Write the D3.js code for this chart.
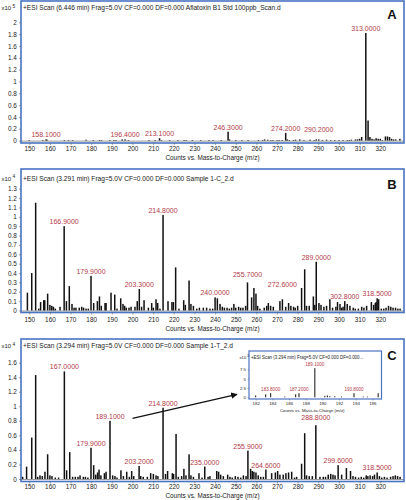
<!DOCTYPE html>
<html><head><meta charset="utf-8">
<script src="https://cdn.jsdelivr.net/npm/d3@7"></script>
<style>
body{margin:0;background:#fff}
svg{display:block}
text{font-family:"Liberation Sans",Arial,sans-serif}
</style>
</head><body>
<svg id="chart" width="406" height="500"></svg>
<script>
// ---------------- DATA ----------------
const mzTicks = [150,160,170,180,190,200,210,220,230,240,250,260,270,280,290,300,310,320];
const yTicksA = [0,0.2,0.4,0.6,0.8,1,1.2,1.4,1.6,1.8,2];
const yTicksB = [0,0.1,0.2,0.3,0.4,0.5,0.6,0.7,0.8,0.9,1,1.1,1.2,1.3];
const yTicksC = [0,0.2,0.4,0.6,0.8,1,1.2,1.4,1.6];
const insetXTicks = [182,184,186,188,190,192,194,196];
const insetYTicks = [0,2.5,5,7.5];

const titleA = "+ESI Scan (6.446 min) Frag=5.0V CF=0.000 DF=0.000 Aflatoxin B1 Std 100ppb_Scan.d";
const titleB = "+ESI Scan (3.291 min) Frag=5.0V CF=0.000 DF=0.000 Sample 1-C_2.d";
const titleC = "+ESI Scan (3.294 min) Frag=5.0V CF=0.000 DF=0.000 Sample 1-T_2.d";
const titleInset = "+ESI Scan (3.294 min) Frag=5.0V CF=0.000 DF=0.000...";
const xAxisTitle = "Counts vs. Mass-to-Charge (m/z)";

// Panel A (x10^5)
const mzA = [150,156.5,158.1,158.6,167,169,171,177.5,181,184,185,189,191,192,195,196.4,198,208,211,213.1,214,218,222,225,226,229,233,237,239,243,246.3,247,250,253,256,261,263,264,265.5,267,268,270,271,272.5,274.2,275,276,278,279,281,283,286,288,289,290.2,292,294,296,298,300,302,304,305,306,308,309,310,311,313.0,314.1,315,316,317,318,319,320,321,322.5,323.5,324.5,325.5,326.5,327.5,329.5];
const intA = [0.005,0.01,0.02,0.015,0.01,0.01,0.01,0.015,0.005,0.01,0.01,0.005,0.01,0.01,0.02,0.02,0.005,0.01,0.01,0.04,0.01,0.01,0.005,0.01,0.01,0.005,0.005,0.005,0.01,0.01,0.15,0.02,0.01,0.01,0.005,0.005,0.01,0.02,0.015,0.01,0.01,0.01,0.005,0.01,0.13,0.02,0.01,0.01,0.015,0.02,0.01,0.015,0.01,0.02,0.02,0.01,0.015,0.01,0.005,0.01,0.01,0.01,0.005,0.015,0.02,0.02,0.03,0.06,1.82,0.34,0.06,0.03,0.02,0.04,0.03,0.03,0.01,0.07,0.07,0.06,0.03,0.02,0.02,0.03];
const labelsA = [158.1,196.4,213.1,246.3,274.2,290.2,313.0];

// Panel B (x10^4)
const mzB = [149.1,151.2,153.1,154.6,155.5,157.0,157.5,158.9,160.0,160.9,161.7,162.6,164.9,166.9,168.0,169.4,170.7,171.7,172.6,174.2,175.4,176.3,177.5,178.6,179.9,181.2,183.0,184.0,184.9,186.7,187.2,189.6,191.4,192.5,194.3,195.4,196.2,197.0,198.3,199.3,201.2,202.3,203.3,204.4,205.6,207.7,209.3,210.1,211.4,212.2,213.3,214.8,217.2,219.1,219.8,220.9,222.5,224.8,225.6,227.4,228.3,229.5,231.1,232.4,234.3,235.9,237.5,238.8,240.0,241.1,242.4,243.5,244.5,245.8,246.9,248.0,249.1,250.0,251.4,252.4,253.5,254.8,255.7,257.7,258.8,259.8,260.6,261.7,263.8,265.0,265.8,266.9,268.2,271.4,272.6,274.2,275.6,276.7,278.0,278.8,280.0,281.9,283.4,284.3,285.6,287.6,288.3,289.0,290.3,291.3,292.7,294.0,295.6,296.9,298.5,299.3,300.5,301.3,302.0,302.8,304.0,305.3,306.9,307.9,309.4,311.0,312.1,313.4,315.7,316.8,317.6,318.0,318.5,319.2,320.5,321.7,322.8,324.0,325.1,326.2,327.4,328.5,329.6];
const intB = [0.19,0.40,1.15,0.02,0.09,0.11,0.11,0.18,0.06,0.05,0.04,0.02,0.04,0.90,0.10,0.26,0.07,0.03,0.03,0.03,0.04,0.03,0.02,0.02,0.37,0.08,0.10,0.15,0.05,0.08,0.08,0.19,0.17,0.02,0.13,0.07,0.05,0.03,0.03,0.04,0.04,0.10,0.23,0.04,0.11,0.03,0.08,0.03,0.12,0.08,0.02,1.02,0.10,0.09,0.09,0.46,0.02,0.11,0.06,0.32,0.07,0.05,0.02,0.03,0.03,0.03,0.02,0.02,0.14,0.13,0.07,0.04,0.03,0.03,0.02,0.03,0.07,0.03,0.04,0.03,0.03,0.05,0.30,0.14,0.24,0.18,0.05,0.02,0.03,0.05,0.08,0.05,0.04,0.10,0.12,0.04,0.08,0.05,0.04,0.03,0.05,0.24,0.44,0.05,0.05,0.15,0.06,0.52,0.08,0.06,0.04,0.05,0.12,0.03,0.04,0.09,0.07,0.03,0.04,0.10,0.07,0.05,0.03,0.02,0.02,0.04,0.03,0.05,0.09,0.06,0.08,0.09,0.13,0.12,0.02,0.02,0.03,0.05,0.04,0.03,0.03,0.02,0.02];
const labelsB = [166.9,179.9,203.3,214.8,240.0,255.7,272.6,289.0,302.8,318.5];

// Panel C (x10^4)
const mzC = [146.8,148.7,151.2,153.1,154.1,155.2,156.3,157.6,158.9,160.0,161.0,162.6,164.2,167.0,168.1,169.6,171.0,172.3,173.6,174.6,176.2,177.2,178.4,179.9,181.2,182.2,183.1,183.8,184.7,186.4,187.2,189.1,190.4,191.5,192.5,194.4,195.6,197.2,198.5,199.6,200.6,203.2,204.0,205.2,207.2,208.8,210.1,211.4,212.3,214.8,216.0,217.0,219.3,219.9,221.1,222.2,223.8,224.9,225.9,227.4,228.3,229.5,232.2,233.7,235.0,236.6,237.5,240.8,241.7,242.7,244.0,246.1,247.2,248.3,249.8,251.1,252.4,253.7,255.0,255.9,257.2,258.0,258.8,259.8,260.9,262.1,263.4,264.6,267.4,269.2,270.3,271.4,273.0,274.3,275.6,277.1,278.5,279.5,281.9,283.4,284.3,285.6,287.1,288.8,290.8,292.4,293.5,294.8,296.0,297.1,298.1,299.6,301.3,303.6,305.6,306.8,308.0,309.5,310.8,312.0,313.2,314.0,315.1,316.3,317.2,318.5,319.6,320.7,322.0,323.3,325.0,326.2,327.3,328.4,329.6];
const intC = [0.03,0.17,0.57,1.43,0.03,0.05,0.04,0.10,0.34,0.05,0.04,0.02,0.02,1.48,0.12,0.37,0.03,0.03,0.03,0.05,0.03,0.03,0.02,0.43,0.19,0.06,0.09,0.13,0.05,0.08,0.10,0.80,0.05,0.04,0.02,0.12,0.04,0.10,0.03,0.11,0.04,0.18,0.04,0.03,0.03,0.08,0.07,0.05,0.04,0.98,0.07,0.11,0.08,0.07,0.62,0.03,0.04,0.14,0.05,0.34,0.05,0.03,0.08,0.02,0.17,0.03,0.04,0.11,0.10,0.06,0.04,0.06,0.03,0.02,0.04,0.03,0.02,0.05,0.04,0.39,0.14,0.11,0.10,0.09,0.05,0.03,0.03,0.13,0.08,0.09,0.11,0.06,0.06,0.08,0.09,0.10,0.02,0.03,0.21,0.63,0.05,0.04,0.04,0.74,0.03,0.03,0.03,0.06,0.07,0.06,0.05,0.19,0.06,0.15,0.11,0.04,0.03,0.02,0.03,0.02,0.05,0.04,0.05,0.04,0.06,0.09,0.04,0.02,0.03,0.02,0.03,0.04,0.05,0.04,0.03];
const labelsC = [167.0,179.9,189.1,203.2,214.8,235.0,255.9,264.6,288.8,299.6,318.5];

// Inset of panel C (x10^3)
const mzInset = [182.0,183.2,183.8,185.5,186.8,187.2,189.1,190.3,190.6,190.9,191.5,192.3,193.8,194.9,195.4,196.7];
const intInset = [0.5,0.8,1.1,0.2,0.8,1.1,7.8,0.4,0.5,0.3,0.3,0.2,1.1,0.2,0.2,1.1];
const labelsInset = [183.8,187.2,189.1,193.8];

// ---------------- DRAWING ----------------
const svg = d3.select("#chart");
svg.append("rect").attr("width",406).attr("height",500).attr("fill","#fff");

const FRAME = "#4a73c2";
const LABEL = "#b23b4a";
const INK = "#222";

const panels = [
  {id:"A", mz:mzA, val:intA, labels:labelsA, yTicks:yTicksA, exp:"5", title:titleA,
   fx0:21, fy0:1, fx1:404, fy1:143, yTop:2, yTopPx:22.3, y0Px:140.6,
   headY:10, letterY:18.5, tickPad:1.5, axisTitleY:160, nudge:{"290.2":-5}},
  {id:"B", mz:mzB, val:intB, labels:labelsB, yTicks:yTicksB, exp:"4", title:titleB,
   fx0:21, fy0:169, fx1:404, fy1:312.5, yTop:1.3, yTopPx:188.7, y0Px:310.5,
   headY:180.5, letterY:188.5, tickPad:2.5, axisTitleY:330.5, nudge:{"272.6":-10,"255.7":-3}},
  {id:"C", mz:mzC, val:intC, labels:labelsC, yTicks:yTicksC, exp:"4", title:titleC,
   fx0:21, fy0:339, fx1:404, fy1:481.5, yTop:1.6, yTopPx:362.7, y0Px:479,
   headY:348, letterY:359.5, tickPad:1.3, axisTitleY:497.5, nudge:{"288.8":-3}}
];

const fmt = d => d.toFixed(4);

panels.forEach((p, i) => {
  const g = svg.append("g");
  const x = d3.scaleLinear().domain([146, 331.5]).range([p.fx0, p.fx1]);
  const y = d3.scaleLinear().domain([0, p.yTop]).range([p.y0Px, p.yTopPx]);

  const clipId = "clip" + p.id;
  svg.append("clipPath").attr("id", clipId).append("rect")
    .attr("x", p.fx0).attr("y", p.fy0).attr("width", p.fx1 - p.fx0).attr("height", p.fy1 - p.fy0);

  // bars
  const data = p.mz.map((m, k) => ({mz: m, v: p.val[k]}));
  g.append("g").attr("clip-path", `url(#${clipId})`)
    .selectAll("rect").data(data).join("rect")
    .attr("x", d => x(d.mz) - 0.75)
    .attr("width", 1.5)
    .attr("y", d => y(d.v))
    .attr("height", d => Math.max(0.6, y(0) - y(d.v)))
    .attr("fill", "#111");

  // baseline
  g.append("line").attr("x1", p.fx0).attr("x2", p.fx1)
    .attr("y1", y(0) + 0.5).attr("y2", y(0) + 0.5)
    .attr("stroke", "#555").attr("stroke-width", 0.6);

  // frame
  g.append("rect").attr("x", p.fx0).attr("y", p.fy0)
    .attr("width", p.fx1 - p.fx0).attr("height", p.fy1 - p.fy0)
    .attr("fill", "none").attr("stroke", FRAME).attr("stroke-width", 1.6);

  // x axis
  const xa = g.append("g").attr("transform", `translate(0,${p.fy1})`)
    .call(d3.axisBottom(x).tickValues(mzTicks).tickSize(2).tickPadding(p.tickPad).tickFormat(d3.format("d")));
  xa.select(".domain").remove();
  xa.attr("font-size", 6.4).attr("font-family", "Liberation Sans, Arial, sans-serif");
  xa.selectAll("line").attr("stroke", "#666").attr("stroke-width", 0.6);
  xa.selectAll("text").attr("fill", INK);

  // y axis
  const ya = g.append("g").attr("transform", `translate(${p.fx0},0)`)
    .call(d3.axisLeft(y).tickValues(p.yTicks).tickSize(2).tickPadding(2.2).tickFormat(d => String(d)));
  ya.select(".domain").remove();
  ya.attr("font-size", 6.4).attr("font-family", "Liberation Sans, Arial, sans-serif");
  ya.selectAll("line").attr("stroke", "#666").attr("stroke-width", 0.6);
  ya.selectAll("text").attr("fill", INK);

  // exponent
  const ex = g.append("text").attr("x", 1.5).attr("y", p.headY).attr("font-size", 6).attr("fill", INK).text("x10");
  ex.append("tspan").attr("dx", 1.2).attr("dy", -2.5).attr("font-size", 4.8).text(p.exp);

  // title
  g.append("text").attr("x", 23).attr("y", p.headY).attr("font-size", 6.6).attr("fill", INK).text(p.title);

  // letter
  g.append("text").attr("x", 392).attr("y", p.letterY).attr("text-anchor", "middle")
    .attr("font-size", 13).attr("font-weight", "bold").attr("fill", "#111").text(p.id);

  // peak labels
  p.labels.forEach(m => {
    const near = data.filter(d => Math.abs(d.mz - m) < 0.05);
    const v = near.length ? d3.max(near, d => d.v) : 0;
    const nd = p.nudge[String(m)] || 0;
    g.append("text").attr("x", x(m)).attr("y", y(v) - 2 + nd)
      .attr("text-anchor", "middle").attr("font-size", 7).attr("fill", LABEL).text(fmt(m));
  });

  // axis title
  g.append("text").attr("x", (p.fx0 + p.fx1) / 2).attr("y", p.axisTitleY)
    .attr("text-anchor", "middle").attr("font-size", 6.4).attr("fill", INK).text(xAxisTitle);
});

// ---------------- INSET ----------------
const ins = {x0:249, y0:351, x1:381.5, y1:399};
const ig = svg.append("g");
const ix = d3.scaleLinear().domain([181.2, 197.1]).range([ins.x0, ins.x1]);
const iy = d3.scaleLinear().domain([0, 7.5]).range([397.3, 369.3]);

ig.append("rect").attr("x", ins.x0).attr("y", ins.y0).attr("width", ins.x1 - ins.x0)
  .attr("height", ins.y1 - ins.y0).attr("fill", "#fff");

const idata = mzInset.map((m, k) => ({mz: m, v: intInset[k]}));
ig.selectAll("rect.ib").data(idata).join("rect").attr("class", "ib")
  .attr("x", d => ix(d.mz) - 0.5).attr("width", 1)
  .attr("y", d => iy(d.v)).attr("height", d => iy(0) - iy(d.v))
  .attr("fill", "#111");

ig.append("rect").attr("x", ins.x0).attr("y", ins.y0).attr("width", ins.x1 - ins.x0)
  .attr("height", ins.y1 - ins.y0).attr("fill", "none").attr("stroke", FRAME).attr("stroke-width", 1.2);

const ixa = ig.append("g").attr("transform", `translate(0,${ins.y1})`)
  .call(d3.axisBottom(ix).tickValues(insetXTicks).tickSize(1.5).tickPadding(1.2).tickFormat(d3.format("d")));
ixa.select(".domain").remove();
ixa.attr("font-size", 4.4).attr("font-family", "Liberation Sans, Arial, sans-serif");
ixa.selectAll("line").attr("stroke", "#666").attr("stroke-width", 0.5);
ixa.selectAll("text").attr("fill", INK);

const iya = ig.append("g").attr("transform", `translate(${ins.x0},0)`)
  .call(d3.axisLeft(iy).tickValues(insetYTicks).tickSize(1.5).tickPadding(1.5).tickFormat(d => String(d)));
iya.select(".domain").remove();
iya.attr("font-size", 4.4).attr("font-family", "Liberation Sans, Arial, sans-serif");
iya.selectAll("line").attr("stroke", "#666").attr("stroke-width", 0.5);
iya.selectAll("text").attr("fill", INK);

const iex = ig.append("text").attr("x", 239.5).attr("y", 358.8).attr("font-size", 4.2).attr("fill", INK).text("x10");
iex.append("tspan").attr("dx", 0.8).attr("dy", -1.8).attr("font-size", 3.5).text("3");

ig.append("text").attr("x", 251).attr("y", 358.8).attr("font-size", 4.45).attr("fill", INK).text(titleInset);

labelsInset.forEach(m => {
  const near = idata.filter(d => Math.abs(d.mz - m) < 0.05);
  const v = near.length ? d3.max(near, d => d.v) : 0;
  ig.append("text").attr("x", ix(m)).attr("y", iy(v) - 2.2)
    .attr("text-anchor", "middle").attr("font-size", 4.6).attr("fill", LABEL).text(fmt(m));
});

ig.append("text").attr("x", (ins.x0 + ins.x1) / 2 - 3).attr("y", 411.8)
  .attr("text-anchor", "middle").attr("font-size", 4.4).attr("fill", INK).text(xAxisTitle);

// arrow from main-panel label 189.1 to the inset
svg.append("defs").append("marker").attr("id", "arr")
  .attr("viewBox", "0 0 10 10").attr("refX", 9).attr("refY", 5)
  .attr("markerWidth", 5).attr("markerHeight", 5).attr("orient", "auto")
  .append("path").attr("d", "M0,0 L10,5 L0,10 z").attr("fill", "#111");
svg.append("line").attr("x1", 132.5).attr("y1", 418.3).attr("x2", 237).attr("y2", 394.3)
  .attr("stroke", "#111").attr("stroke-width", 1.3).attr("marker-end", "url(#arr)");
</script>
</body></html>
